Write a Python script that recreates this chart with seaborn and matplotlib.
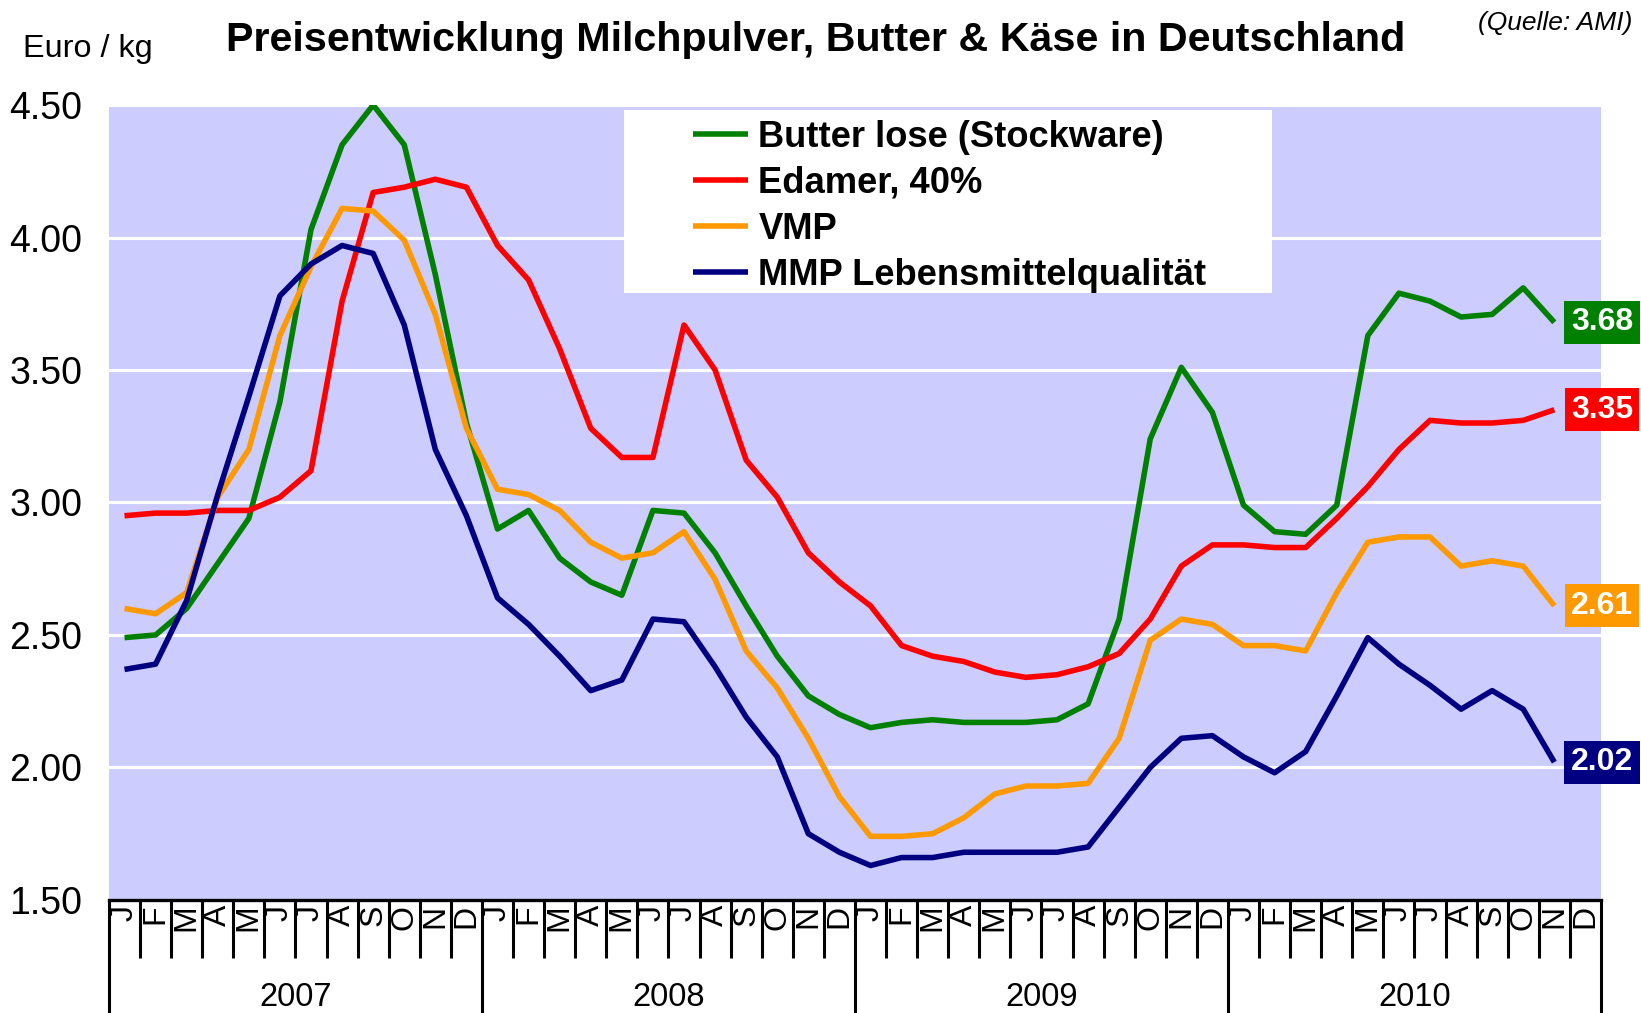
import numpy as np
import pandas as pd
import matplotlib
matplotlib.use('Agg')
import matplotlib.pyplot as plt
import matplotlib.transforms as mtransforms
from matplotlib.patches import Rectangle
import seaborn as sns

# monthly prices in Euro/kg, Jan 2007 .. Nov 2010
butter = [2.49, 2.50, 2.60, 2.77, 2.94, 3.38, 4.03, 4.35, 4.50, 4.35, 3.86, 3.30,
          2.90, 2.97, 2.79, 2.70, 2.65, 2.97, 2.96, 2.81, 2.61, 2.42, 2.27, 2.20,
          2.15, 2.17, 2.18, 2.17, 2.17, 2.17, 2.18, 2.24, 2.56, 3.24, 3.51, 3.34,
          2.99, 2.89, 2.88, 2.99, 3.63, 3.79, 3.76, 3.70, 3.71, 3.81, 3.68]
edamer = [2.95, 2.96, 2.96, 2.97, 2.97, 3.02, 3.12, 3.76, 4.17, 4.19, 4.22, 4.19,
          3.97, 3.84, 3.58, 3.28, 3.17, 3.17, 3.67, 3.50, 3.16, 3.02, 2.81, 2.70,
          2.61, 2.46, 2.42, 2.40, 2.36, 2.34, 2.35, 2.38, 2.43, 2.56, 2.76, 2.84,
          2.84, 2.83, 2.83, 2.94, 3.06, 3.20, 3.31, 3.30, 3.30, 3.31, 3.35]
vmp = [2.60, 2.58, 2.66, 3.02, 3.20, 3.63, 3.89, 4.11, 4.10, 3.99, 3.71, 3.28,
       3.05, 3.03, 2.97, 2.85, 2.79, 2.81, 2.89, 2.71, 2.44, 2.30, 2.11, 1.89,
       1.74, 1.74, 1.75, 1.81, 1.90, 1.93, 1.93, 1.94, 2.11, 2.48, 2.56, 2.54,
       2.46, 2.46, 2.44, 2.66, 2.85, 2.87, 2.87, 2.76, 2.78, 2.76, 2.61]
mmp = [2.37, 2.39, 2.63, 3.03, 3.40, 3.78, 3.90, 3.97, 3.94, 3.67, 3.20, 2.95,
       2.64, 2.54, 2.42, 2.29, 2.33, 2.56, 2.55, 2.38, 2.19, 2.04, 1.75, 1.68,
       1.63, 1.66, 1.66, 1.68, 1.68, 1.68, 1.68, 1.70, 1.85, 2.00, 2.11, 2.12,
       2.04, 1.98, 2.06, 2.27, 2.49, 2.39, 2.31, 2.22, 2.29, 2.22, 2.02]

series_names = ['Butter lose (Stockware)', 'Edamer, 40%', 'VMP', 'MMP Lebensmittelqualität']
series_colors = ['#008000', '#FF0000', '#FF9900', '#000080']
month_letters = ['J', 'F', 'M', 'A', 'M', 'J', 'J', 'A', 'S', 'O', 'N', 'D']
years = ['2007', '2008', '2009', '2010']
yticks = [1.5, 2.0, 2.5, 3.0, 3.5, 4.0, 4.5]

sns.set_style('white')
plt.rcParams['font.family'] = ['Liberation Sans', 'DejaVu Sans']
plt.rcParams['text.color'] = 'black'
plt.rcParams['axes.labelcolor'] = 'black'
plt.rcParams['xtick.color'] = 'black'
plt.rcParams['ytick.color'] = 'black'

frames = []
for name, vals in zip(series_names, [butter, edamer, vmp, mmp]):
    frames.append(pd.DataFrame({'pos': np.arange(len(vals)) + 0.5, 'value': vals, 'series': name}))
df = pd.concat(frames, ignore_index=True)

fig = plt.figure(figsize=(16.41, 10.13), dpi=100)
ax = fig.add_axes([0.0664, 0.1116, 0.9092, 0.7847])
ax.set_facecolor('#CCCCFF')

sns.lineplot(data=df, x='pos', y='value', hue='series', hue_order=series_names,
             palette=series_colors, linewidth=4.0, ax=ax, zorder=3)
for ln in ax.lines:
    ln.set_solid_joinstyle('round')
    ln.set_solid_capstyle('butt')

ax.set_xlim(0, 48)
ax.set_ylim(1.5, 4.5)
ax.set_xlabel('')
ax.set_ylabel('')
ax.set_yticks(yticks)
ax.set_yticklabels(['%.2f' % v for v in yticks], fontsize=27)
ax.tick_params(axis='y', length=0, pad=19, labelcolor='black')
ax.grid(axis='y', color='white', linewidth=2.3)
ax.set_axisbelow(True)
for s in ['left', 'top', 'right']:
    ax.spines[s].set_visible(False)
ax.spines['bottom'].set_linewidth(2.4)
ax.spines['bottom'].set_color('black')

# month / year separators as ticks
ax.set_xticks([0, 12, 24, 36, 48])
ax.set_xticks(np.arange(49), minor=True)
ax.set_xticklabels([])
ax.tick_params(axis='x', which='both', bottom=True, color='black', direction='out', width=2.2)
ax.tick_params(axis='x', which='major', length=82)
ax.tick_params(axis='x', which='minor', length=42)

trans = mtransforms.blended_transform_factory(ax.transData, ax.transAxes)
for i in range(48):
    ax.text(i + 0.5, -0.006, month_letters[i % 12], transform=trans, rotation=90,
            ha='center', va='top', fontsize=23, clip_on=False)
for k, yr in enumerate(years):
    ax.text(12 * k + 6, -0.123, yr, transform=trans, ha='center', va='center',
            fontsize=23.5, clip_on=False)

# legend box
ax.add_patch(Rectangle((0.3452, 0.7635), 0.4343, 0.2302, transform=ax.transAxes,
                       facecolor='white', edgecolor='none', zorder=4))
handles, labels = ax.get_legend_handles_labels()
for h in handles:
    h.set_linewidth(4.0)
ax.legend(handles, labels, loc='upper left', bbox_to_anchor=(0.4223, 0.8815),
          bbox_transform=fig.transFigure, frameon=False, borderpad=0, borderaxespad=0,
          handlelength=1.5, handletextpad=0.3, labelspacing=0.3,
          prop={'weight': 'bold', 'size': 26.2})
ax.get_legend().set_zorder(5)

# end value boxes
trans2 = mtransforms.blended_transform_factory(ax.transAxes, ax.transData)
for vals, col in zip([butter, edamer, vmp, mmp], series_colors):
    ax.text(1.0007, vals[-1], '%.2f' % vals[-1], transform=trans2, ha='center', va='center',
            color='white', fontsize=23, fontweight='bold', clip_on=False, zorder=6,
            bbox=dict(boxstyle='square,pad=0.2', facecolor=col, edgecolor='none'))

fig.text(0.497, 0.9605, 'Preisentwicklung Milchpulver, Butter & Käse in Deutschland',
         ha='center', va='center', fontsize=29.7, fontweight='bold')
fig.text(0.014, 0.9516, 'Euro / kg', ha='left', va='center', fontsize=23.3)
fig.text(0.995, 0.977, '(Quelle: AMI)', ha='right', va='center', fontsize=19, style='italic')

fig.savefig('out.png', dpi=100)
